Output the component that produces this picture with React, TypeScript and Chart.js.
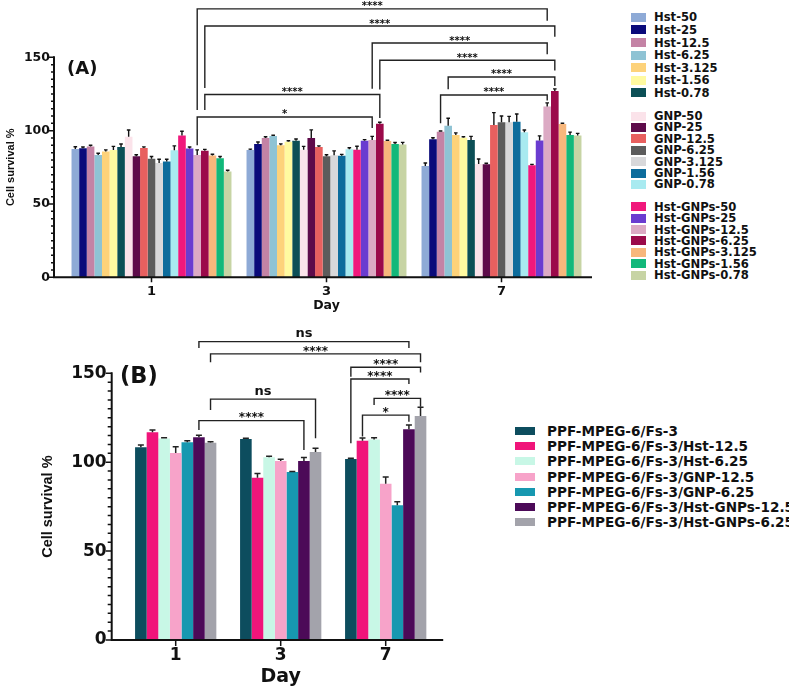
import React, { useEffect, useRef } from 'react';
import { Chart, registerables } from 'chart.js';

Chart.register(...registerables);

const DJV = "'DejaVu Sans', sans-serif";
const ARIAL = "'Liberation Sans', Arial, sans-serif";

// ---------- Panel A data ----------
const DAYS = ['1', '3', '7'];

const HST_NAMES = ['Hst-50', 'Hst-25', 'Hst-12.5', 'Hst-6.25', 'Hst-3.125', 'Hst-1.56', 'Hst-0.78'];
const GNP_NAMES = ['GNP-50', 'GNP-25', 'GNP-12.5', 'GNP-6.25', 'GNP-3.125', 'GNP-1.56', 'GNP-0.78'];
const HSTGNP_NAMES = ['Hst-GNPs-50', 'Hst-GNPs-25', 'Hst-GNPs-12.5', 'Hst-GNPs-6.25', 'Hst-GNPs-3.125', 'Hst-GNPs-1.56', 'Hst-GNPs-0.78'];

// [day 1, day 3, day 7]
const HST_VALUES = [
  [87.5, 86.8, 75.9],
  [88.0, 90.9, 94.1],
  [89.2, 95.0, 99.3],
  [83.4, 96.4, 103.4],
  [85.7, 90.0, 97.0],
  [86.8, 92.5, 95.2],
  [88.9, 93.1, 93.6],
];
const GNP_VALUES = [
  [95.9, 87.0, 77.3],
  [82.6, 95.0, 77.0],
  [88.1, 88.8, 103.9],
  [80.9, 82.6, 105.7],
  [78.0, 83.2, 105.7],
  [79.0, 82.8, 106.1],
  [86.6, 87.3, 98.9],
];
const HSTGNP_VALUES = [
  [96.6, 86.9, 76.4],
  [87.8, 93.1, 93.2],
  [83.4, 93.6, 116.4],
  [86.2, 104.7, 127.0],
  [83.1, 92.9, 104.5],
  [81.2, 90.9, 97.0],
  [72.2, 90.5, 96.6],
];
const HST_ERR = [[1.5, 0.6, 2], [0.8, 1.3, 1], [0.8, 0.8, 0.5], [1.2, 0.5, 5], [1.2, 1, 1.5], [2.5, 0.6, 0.6], [2, 1.2, 2.5]];
const GNP_ERR = [[4.5, 2.3, 3.4], [1, 5.5, 0.8], [0.8, 0.8, 8.4], [1.5, 1, 4.3], [2.5, 3, 4], [1.5, 1, 5.2], [3, 1, 1.5]];
const HSTGNP_ERR = [[3, 2.5, 0.6], [1, 0.8, 3.2], [3.5, 2.5, 2.5], [1, 1, 1.5], [0.8, 0.5, 0.5], [1.2, 1, 2], [0.8, 1.5, 1.5]];

const HST_COLORS = ['#8eaad6', '#0a0a7a', '#c483a5', '#8fc3d4', '#fdd27a', '#fffaa0', '#0c4f56'];
const GNP_COLORS = ['#fbe3ea', '#5e0b4a', '#e8605f', '#5c5c5c', '#d8d8da', '#0d6c9c', '#a8eaf0'];
const HSTGNP_COLORS = ['#f0187c', '#6a3cd0', '#dcaac4', '#9b0a4a', '#f7b77c', '#12b87a', '#c7d4a4'];

// [fromDay, fromSeries, toDay, toSeries, level, leftLegEnd, rightLegEnd, label]
type Bracket = [number, number, number, number, number, number, number, string];
const BRACKETS_A: Bracket[] = [
  [0, 16, 2, 16, 183, 114, 175, '****'],
  [0, 17, 2, 17, 171.3, 129, 164, '****'],
  [1, 16, 2, 16, 159.7, 128.5, 152, '****'],
  [1, 17, 2, 17, 148, 128, 141, '****'],
  [2, 3, 2, 17, 136.6, 128.3, 130.5, '****'],
  [2, 2, 2, 16, 124.3, 105, 120.5, '****'],
  [0, 17, 1, 17, 124.6, 114, 108.6, '****'],
  [0, 16, 1, 16, 109.3, 90, 101.8, '*'],
];

// ---------- Panel B data ----------
const B_NAMES = [
  'PPF-MPEG-6/Fs-3',
  'PPF-MPEG-6/Fs-3/Hst-12.5',
  'PPF-MPEG-6/Fs-3/Hst-6.25',
  'PPF-MPEG-6/Fs-3/GNP-12.5',
  'PPF-MPEG-6/Fs-3/GNP-6.25',
  'PPF-MPEG-6/Fs-3/Hst-GNPs-12.5',
  'PPF-MPEG-6/Fs-3/Hst-GNPs-6.25',
];
const B_VALUES = [
  [108.4, 113.1, 101.8],
  [116.8, 91.3, 112.1],
  [113.3, 102.8, 112.7],
  [105.2, 100.7, 87.9],
  [111.2, 94.5, 75.8],
  [114.0, 100.7, 118.5],
  [111.0, 105.8, 126.0],
];
const B_ERR = [[1.3, 0.3, 0.4], [1.3, 2.4, 1.5], [0.5, 0.6, 1.1], [3.5, 1, 3.8], [0.8, 0.3, 1.9], [1.1, 2, 2.4], [0.5, 2, 4.9]];
const B_COLORS = ['#0d4d5e', '#f0157a', '#c8f7e6', '#f7a3c9', '#1798b0', '#4c0a58', '#a3a3ab'];

const BRACKETS_B: Bracket[] = [
  [0, 5, 2, 5, 167.8, 164.2, 164.2, 'ns'],
  [0, 6, 2, 6, 160.9, 156.2, 156.2, '****'],
  [2, 0, 2, 6, 153.4, 148, 150.5, '****'],
  [2, 0, 2, 5, 146.8, 110.6, 144, '****'],
  [2, 2, 2, 6, 135.9, 132.2, 131.2, '****'],
  [2, 1, 2, 5, 126.5, 114.4, 122.8, '*'],
  [0, 6, 1, 6, 135.5, 129.4, 113.4, 'ns'],
  [0, 5, 1, 5, 123.4, 118.1, 106.9, '****'],
];

// ---------- plugin: axes, error bars, significance brackets ----------
const decorPlugin = {
  id: 'decor',
  afterDraw(chart: any, _args: any, o: any) {
    const { ctx, chartArea: ca } = chart;
    const ys = chart.scales.y;
    const xs = chart.scales.x;
    const ax = ca.left - o.axisGap;
    ctx.save();
    // error bars
    ctx.strokeStyle = o.errColor;
    ctx.lineWidth = o.errWidth;
    chart.data.datasets.forEach((ds: any, di: number) => {
      const meta = chart.getDatasetMeta(di);
      meta.data.forEach((bar: any, i: number) => {
        const e = ds.errors ? ds.errors[i] : 0;
        if (!e) return;
        const yt = ys.getPixelForValue(ds.data[i] + e);
        ctx.beginPath();
        ctx.moveTo(bar.x, bar.y);
        ctx.lineTo(bar.x, yt);
        ctx.moveTo(bar.x - o.cap, yt);
        ctx.lineTo(bar.x + o.cap, yt);
        ctx.stroke();
      });
    });
    // axes lines
    ctx.strokeStyle = '#111';
    ctx.lineWidth = o.axisWidth;
    ctx.beginPath();
    ctx.moveTo(ax, ca.top - 1);
    ctx.lineTo(ax, ca.bottom);
    ctx.lineTo(ca.right + o.axisExtend, ca.bottom);
    ctx.stroke();
    // tick marks
    ctx.lineWidth = o.tickWidth;
    ctx.beginPath();
    ys.ticks.forEach((t: any) => {
      const y = ys.getPixelForValue(t.value);
      const len = t.value % 50 === 0 ? o.majorLen : o.minorLen;
      ctx.moveTo(ax - len, y);
      ctx.lineTo(ax, y);
    });
    xs.ticks.forEach((_t: any, i: number) => {
      const x = xs.getPixelForTick(i);
      ctx.moveTo(x, ca.bottom);
      ctx.lineTo(x, ca.bottom + o.xTickLen);
    });
    ctx.stroke();
    // brackets
    ctx.strokeStyle = '#222';
    ctx.lineWidth = o.bracketWidth;
    ctx.fillStyle = '#111';
    ctx.textAlign = 'center';
    ctx.textBaseline = 'alphabetic';
    (o.brackets as Bracket[]).forEach(([d1, s1, d2, s2, lvl, l1, l2, label]) => {
      const x1 = chart.getDatasetMeta(s1).data[d1].x;
      const x2 = chart.getDatasetMeta(s2).data[d2].x;
      const y = ys.getPixelForValue(lvl);
      ctx.beginPath();
      ctx.moveTo(x1, ys.getPixelForValue(l1));
      ctx.lineTo(x1, y);
      ctx.lineTo(x2, y);
      ctx.lineTo(x2, ys.getPixelForValue(l2));
      ctx.stroke();
      const isStar = label.indexOf('*') >= 0;
      ctx.font = `bold ${isStar ? o.starSize : o.nsSize}px ${DJV}`;
      ctx.fillText(label, (x1 + x2) / 2, isStar ? y + o.starOffset : y - o.nsOffset);
    });
    ctx.restore();
  },
};

function buildDatasets(names: string[], values: number[][], errs: number[][], colors: string[]) {
  return names.map((n, i) => ({
    label: n,
    data: values[i],
    errors: errs[i],
    backgroundColor: colors[i],
    borderWidth: 0,
  }));
}

function ChartCanvas({ config, left, top, width, height }: any) {
  const ref = useRef<HTMLCanvasElement | null>(null);
  useEffect(() => {
    if (!ref.current) return;
    const chart = new Chart(ref.current, config);
    return () => chart.destroy();
  }, []);
  return (
    <canvas
      ref={ref}
      width={width}
      height={height}
      style={{ position: 'absolute', left, top, width, height }}
    />
  );
}

function makeConfig(p: any) {
  return {
    type: 'bar',
    data: { labels: DAYS, datasets: p.datasets },
    plugins: [decorPlugin],
    options: {
      responsive: false,
      animation: false,
      devicePixelRatio: 1,
      layout: { padding: { top: p.padTop, right: p.padRight, left: 0, bottom: 0 } },
      datasets: { bar: { categoryPercentage: p.catPct, barPercentage: 1 } },
      plugins: {
        legend: { display: false },
        tooltip: { enabled: false },
        decor: p.decor,
      },
      scales: {
        x: {
          type: 'category',
          offset: true,
          grid: { display: false, drawTicks: false },
          border: { display: false },
          ticks: { color: '#111', font: { family: DJV, size: p.xTickSize, weight: 'bold' }, padding: p.xTickPad },
          title: {
            display: true,
            text: 'Day',
            color: '#111',
            font: { family: DJV, size: p.xTitleSize, weight: 'bold' },
            padding: { top: 0, bottom: p.xTitlePad },
          },
          afterFit: (s: any) => { s.height = p.xHeight; },
        },
        y: {
          min: 0,
          max: 150,
          grid: { display: false, drawTicks: false },
          border: { display: false },
          ticks: {
            stepSize: 5,
            autoSkip: false,
            color: '#111',
            padding: p.yTickPad,
            font: { family: DJV, size: p.yTickSize, weight: 'bold' },
            callback: (v: any) => (Number(v) % 50 === 0 ? String(v) : ''),
          },
          title: {
            display: true,
            text: 'Cell survival %',
            color: '#111',
            font: { family: ARIAL, size: p.yTitleSize, weight: 'bold' },
            padding: { top: p.yTitlePad, bottom: 0 },
          },
          afterFit: (s: any) => { s.width = p.yWidth; },
        },
      },
    },
  };
}

const configA = makeConfig({
  datasets: [
    ...buildDatasets(HST_NAMES, HST_VALUES, HST_ERR, HST_COLORS),
    ...buildDatasets(GNP_NAMES, GNP_VALUES, GNP_ERR, GNP_COLORS),
    ...buildDatasets(HSTGNP_NAMES, HSTGNP_VALUES, HSTGNP_ERR, HSTGNP_COLORS),
  ],
  padTop: 57.3,
  padRight: 11,
  catPct: 0.914,
  xTickSize: 13,
  xTickPad: 7,
  xTitleSize: 12.5,
  xTitlePad: 2,
  xHeight: 37.7,
  yTickPad: 14,
  yTickSize: 12.5,
  yTitleSize: 11,
  yTitlePad: 4.4,
  yWidth: 64,
  decor: {
    axisGap: 10, axisExtend: 3, axisWidth: 2, tickWidth: 1.5, majorLen: 5, minorLen: 3, xTickLen: 5,
    errColor: '#111', errWidth: 1.4, cap: 1.8,
    bracketWidth: 1.4, brackets: BRACKETS_A, starSize: 10, nsSize: 11, starOffset: 0.5, nsOffset: 4,
  },
});

const configB = makeConfig({
  datasets: buildDatasets(B_NAMES, B_VALUES, B_ERR, B_COLORS),
  padTop: 55.3,
  padRight: 21.8,
  catPct: 0.774,
  xTickSize: 17,
  xTickPad: 5,
  xTitleSize: 19,
  xTitlePad: 0,
  xHeight: 48,
  yTickPad: 16.5,
  yTickSize: 17,
  yTitleSize: 14.5,
  yTitlePad: 39.3,
  yWidth: 123.2,
  decor: {
    axisGap: 11.5, axisExtend: 5, axisWidth: 2, tickWidth: 1.5, majorLen: 6, minorLen: 4, xTickLen: 6,
    errColor: '#222', errWidth: 1.5, cap: 3,
    bracketWidth: 1.4, brackets: BRACKETS_B, starSize: 12, nsSize: 13, starOffset: 0.8, nsOffset: 4.5,
  },
});

const LEGEND_A_GROUPS = [
  { names: HST_NAMES, colors: HST_COLORS, start: 17.3, step: 12.6 },
  { names: GNP_NAMES, colors: GNP_COLORS, start: 116, step: 11.4 },
  { names: HSTGNP_NAMES, colors: HSTGNP_COLORS, start: 206.7, step: 11.4 },
];

export default function App() {
  return (
    <div style={{ position: 'absolute', left: 0, top: 0, width: 789, height: 688, overflow: 'hidden', background: '#fff' }}>
      <ChartCanvas config={configA} left={0} top={0} width={600} height={315} />
      <ChartCanvas config={configB} left={0} top={318} width={460} height={370} />
      <div style={{ position: 'absolute', left: 67, top: 68 - 12, font: `bold 18px ${DJV}`, color: '#111', lineHeight: '24px' }}>(A)</div>
      <div style={{ position: 'absolute', left: 120, top: 375 - 15, font: `bold 22.5px ${DJV}`, color: '#111', lineHeight: '30px' }}>(B)</div>
      {LEGEND_A_GROUPS.map((g) =>
        g.names.map((n, j) => (
          <div key={n} style={{ position: 'absolute', left: 631, top: g.start + j * g.step - 6, height: 12, display: 'flex', alignItems: 'center', whiteSpace: 'nowrap' }}>
            <div style={{ width: 15, height: 9, background: g.colors[j], marginRight: 8 }} />
            <span style={{ font: `bold 11.6px ${DJV}`, color: '#111', lineHeight: '12px' }}>{n}</span>
          </div>
        ))
      )}
      {B_NAMES.map((n, i) => (
        <div key={n} style={{ position: 'absolute', left: 515, top: 431 + i * 15.2 - 7, height: 14, display: 'flex', alignItems: 'center', whiteSpace: 'nowrap' }}>
          <div style={{ width: 20, height: 8, background: B_COLORS[i], marginRight: 12 }} />
          <span style={{ font: `bold 13.6px ${DJV}`, color: '#111', lineHeight: '14px' }}>{n}</span>
        </div>
      ))}
    </div>
  );
}
